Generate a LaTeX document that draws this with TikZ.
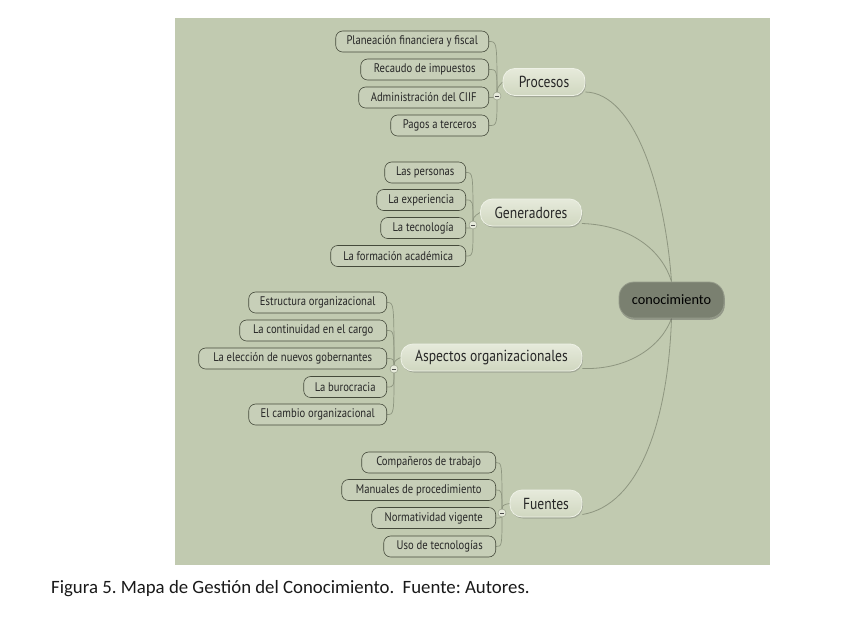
\documentclass[tikz,border=0pt]{standalone}
\usepackage{fontspec}
\setmainfont{Carlito}
\newfontfamily\mmfont[FakeStretch=0.85]{PT Sans}
\usetikzlibrary{shadows}
\pgfdeclarelayer{back}
\pgfdeclarelayer{lines}
\pgfsetlayers{back,lines,main}
\definecolor{bgc}{HTML}{C1CAB0}
\definecolor{leaffill}{HTML}{C7CFB8}
\definecolor{leafline}{HTML}{454A3B}
\definecolor{linec}{HTML}{8E9680}
\definecolor{brtop}{HTML}{E6EADB}
\definecolor{brbot}{HTML}{D0D7C0}
\definecolor{brline}{HTML}{EEF1E6}
\definecolor{rootfill}{HTML}{7A8070}
\definecolor{rootline}{HTML}{959B8A}
\begin{document}
\begin{tikzpicture}[x=1pt,y=-1pt,
  leaf/.style={draw=leafline, line width=0.6pt, fill=leaffill, rounded corners=7pt,
    minimum height=21pt, inner xsep=0pt, inner ysep=0pt, anchor=east,
    text=black!85, font=\mmfont\fontsize{12.5}{14}\selectfont},
  branch/.style={draw=brline, line width=0.8pt, top color=brtop, bottom color=brbot,
    rounded corners=12pt, minimum height=27pt, inner xsep=0pt, inner ysep=0pt,
    text=black!85, font=\mmfont\fontsize{16}{18}\selectfont,
    drop shadow={shadow xshift=0.8pt, shadow yshift=-1.5pt, opacity=0.35, fill=black!60}},
  minus/.style={circle, draw=linec, fill=brtop, minimum size=8pt, inner sep=0pt,
    path picture={\draw[line width=0.9pt, black!70]
      ([xshift=-2pt]path picture bounding box.center) --
      ([xshift=2pt]path picture bounding box.center);}},
  conn/.style={draw=linec, line width=0.8pt},
  leafconn/.style={draw=linec, line width=0.7pt}]
\useasboundingbox (0,0) rectangle (864,624);
\begin{pgfonlayer}{back}
\fill[white] (0,0) rectangle (864,624);
\fill[bgc] (175,18) rectangle (770,565);
\end{pgfonlayer}

% root
\node[draw=rootline, line width=0.8pt, fill=rootfill, rounded corners=15pt,
  minimum width=105pt, minimum height=36pt, inner sep=0pt,
  font=\fontsize{14.3}{16}\selectfont, text=black,
  drop shadow={shadow xshift=0.8pt, shadow yshift=-1.8pt, opacity=0.4, fill=black!70}]
  (root) at (671.5,300) {conocimiento};

% branches
\node[branch, minimum width=82pt] (pro) at (544,82) {Procesos};
\node[branch, minimum width=101pt] (gen) at (531,212.5) {Generadores};
\node[branch, minimum width=181pt] (asp) at (491.5,357.5) {Aspectos organizacionales};
\node[branch, minimum width=72pt] (fue) at (546,503.5) {Fuentes};

% Procesos leaves
\node[leaf, minimum width=153pt] (p1) at (489,41.5) {Planeación financiera y fiscal};
\node[leaf, minimum width=128pt] (p2) at (489,69.5) {Recaudo de impuestos};
\node[leaf, minimum width=130pt] (p3) at (489,97.5) {Administración del CIIF};
\node[leaf, minimum width=98pt] (p4) at (489,125.5) {Pagos a terceros};
\node[minus] (mp) at (497,96) {};

% Generadores leaves
\node[leaf, minimum width=81pt] (g1) at (466,172.5) {Las personas};
\node[leaf, minimum width=89pt] (g2) at (466,200) {La experiencia};
\node[leaf, minimum width=85pt] (g3) at (466,228) {La tecnología};
\node[leaf, minimum width=135pt] (g4) at (466,256) {La formación académica};
\node[minus] (mg) at (473,225) {};

% Aspectos leaves
\node[leaf, minimum width=138pt] (a1) at (387,302.5) {Estructura organizacional};
\node[leaf, minimum width=147pt] (a2) at (387,330.5) {La continuidad en el cargo};
\node[leaf, minimum width=188pt] (a3) at (387,358.5) {La elección de nuevos gobernantes};
\node[leaf, minimum width=83pt] (a4) at (387,387) {La burocracia};
\node[leaf, minimum width=138pt] (a5) at (387,414.5) {El cambio organizacional};
\node[minus] (ma) at (394,369) {};

% Fuentes leaves
\node[leaf, minimum width=134pt] (f1) at (496,462.5) {Compañeros de trabajo};
\node[leaf, minimum width=154pt] (f2) at (496,490) {Manuales de procedimiento};
\node[leaf, minimum width=124pt] (f3) at (496,518) {Normatividad vigente};
\node[leaf, minimum width=112pt] (f4) at (496,546.5) {Uso de tecnologías};
\node[minus] (mf) at (502,513) {};

\begin{pgfonlayer}{lines}
% main connectors
\draw[conn] ([yshift=-10pt]pro.east) .. controls (635,93) and (665,190) .. (root.north);
\draw[conn] ([yshift=-11pt]gen.east) .. controls (630,225) and (662,250) .. (root.north);
\draw[conn] ([yshift=-11pt]asp.east) .. controls (630,370) and (662,345) .. (root.south);
\draw[conn] ([yshift=-11pt]fue.east) .. controls (640,505) and (668,420) .. (root.south);
% branch to minus
\draw[leafconn] (mp.center) .. controls +(0,-8) .. (pro.west);
\draw[leafconn] (mg.center) .. controls +(0,-8) .. (gen.west);
\draw[leafconn] (ma.center) .. controls +(0,-8) .. (asp.west);
\draw[leafconn] (mf.center) .. controls +(0,-8) .. (fue.west);
% leaves
\foreach \m/\l in {mp/p1,mp/p2,mp/p3,mp/p4,mg/g1,mg/g2,mg/g3,mg/g4,
  ma/a1,ma/a2,ma/a3,ma/a4,ma/a5,mf/f1,mf/f2,mf/f3,mf/f4}
  \draw[leafconn] (\m.center) .. controls (\m.center |- \l.east) .. (\l.east);
\end{pgfonlayer}

% caption
\node[anchor=west, inner sep=0pt, font=\fontsize{18.8}{21}\selectfont\frenchspacing, text=black!90]
  (cap) at (51,589) {Figura 5. Mapa de Gestión del Conocimiento.\ \ Fuente: Autores.};
\end{tikzpicture}
\end{document}
